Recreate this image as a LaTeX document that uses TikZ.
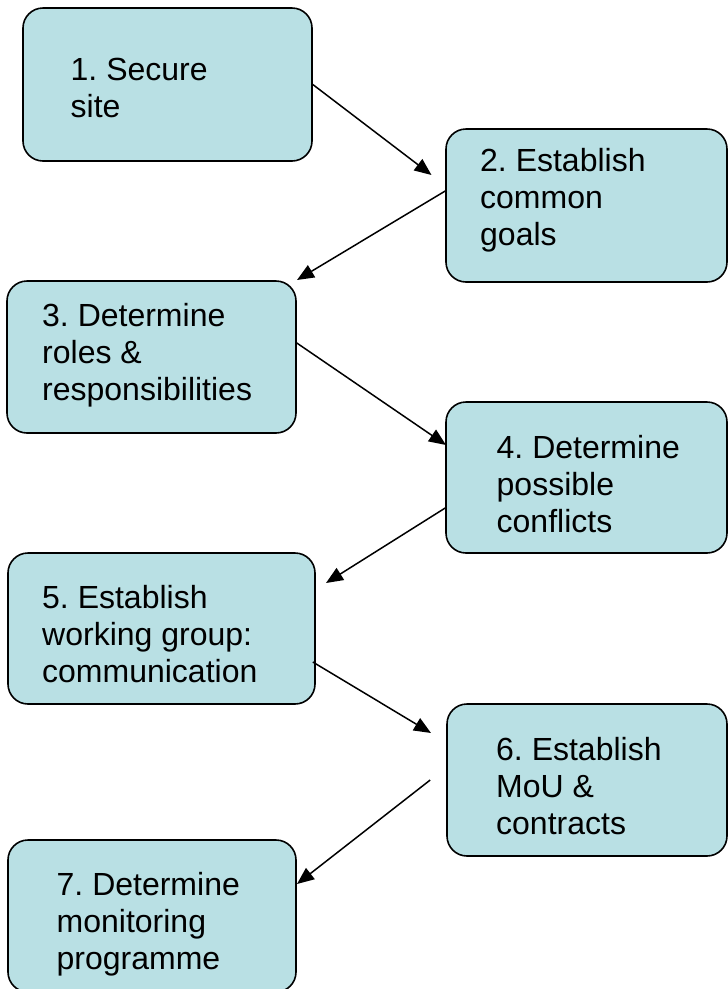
\documentclass[tikz,border=0pt]{standalone}
\usepackage{fontspec}
\setmainfont{Liberation Sans}
\usetikzlibrary{arrows.meta}
\definecolor{boxfill}{RGB}{185,224,228}
\frenchspacing
\tikzset{
  stepbox/.style={draw=black, line width=1.6pt, fill=boxfill, rounded corners=20pt, inner sep=0pt},
  steptext/.style={anchor=north west, inner sep=0pt, align=left, font=\fontsize{32}{37}\selectfont},
  flow/.style={line width=1.5pt, -{Triangle[length=17pt,width=14pt]}},
}
\begin{document}
\begin{tikzpicture}[x=1pt, y=-1pt]
  \clip (0,0) rectangle (728,989);
  \fill[white] (0,0) rectangle (728,989);

  % step boxes
  \node[stepbox, minimum width=289pt, minimum height=153pt] (b1) at (167.5,84.5) {};
  \node[stepbox, minimum width=281pt, minimum height=153pt] (b2) at (586.5,205.5) {};
  \node[stepbox, minimum width=289pt, minimum height=152pt] (b3) at (151.5,357) {};
  \node[stepbox, minimum width=281pt, minimum height=151pt] (b4) at (586.5,477.5) {};
  \node[stepbox, minimum width=307pt, minimum height=151pt] (b5) at (161.5,628.5) {};
  \node[stepbox, minimum width=280pt, minimum height=152pt] (b6) at (587,780) {};
  \node[stepbox, minimum width=288pt, minimum height=152pt] (b7) at (152,916) {};

  % step labels
  \node[steptext] (l1) at (70.5,57.5) {1. Secure\\site};
  \node[steptext] (l2) at (480,148) {2. Establish\\common\\goals};
  \node[steptext] (l3) at (42,303) {3. Determine\\roles \&\\responsibilities};
  \node[steptext] (l4) at (496.5,435) {4. Determine\\possible\\conflicts};
  \node[steptext] (l5) at (42,585) {5. Establish\\working group:\\communication};
  \node[steptext] (l6) at (496,737) {6. Establish\\MoU \&\\contracts};
  \node[steptext] (l7) at (56.5,872) {7. Determine\\monitoring\\programme};

  % arrow tips stop short of the next box
  \coordinate (tip1) at (431.5,175);
  \coordinate (tip2) at (297,280);
  \coordinate (tip3) at (446,445);
  \coordinate (tip4) at (326,583);
  \coordinate (tip5) at (431,733);
  \coordinate (tip6) at (297,884);

  \draw[flow] (b1.east) -- (tip1);
  \draw[flow] ([yshift=14.5pt]b2.west) -- (tip2);
  \draw[flow] ([yshift=14pt]b3.east) -- (tip3);
  \draw[flow] ([yshift=-30.5pt]b4.west) -- (tip4);
  \draw[flow] ([xshift=-3pt,yshift=-33.5pt]b5.east) -- (tip5);
  \draw[flow] ([xshift=-16pt]b6.west) -- (tip6);
\end{tikzpicture}
\end{document}
